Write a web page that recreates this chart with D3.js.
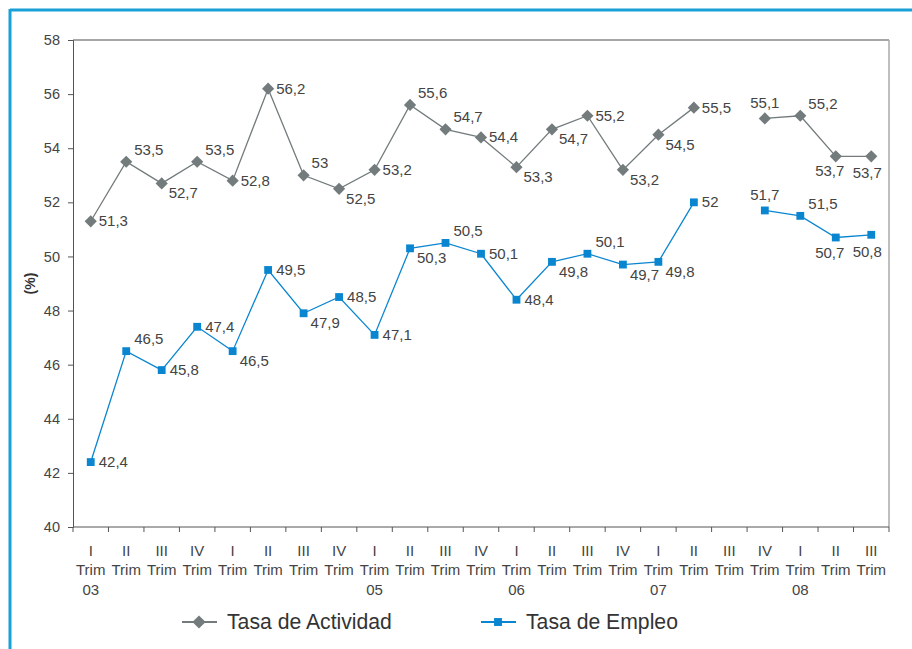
<!DOCTYPE html>
<meta charset="utf-8">
<style>
body { margin: 0; background: #fff; }
svg { display: block; font-family: "Liberation Sans", Arial, sans-serif; }
.tick text { fill: #444; font-size: 14.5px; }
.lbl { fill: #444; font-size: 15px; }
</style>
<svg width="912" height="649"></svg>
<script src="https://d3js.org/d3.v7.min.js"></script>
<script>

var quarters = ["I","II","III","IV","I","II","III","IV","I","II","III","IV","I","II","III","IV","I","II","III","IV","I","II","III"];
var years = ["03","","","","","","","","05","","","","06","","","","07","","","","08","",""];
var actividad = [51.3,53.5,52.7,53.5,52.8,56.2,53,52.5,53.2,55.6,54.7,54.4,53.3,54.7,55.2,53.2,54.5,55.5,null,55.1,55.2,53.7,53.7];
var empleo = [42.4,46.5,45.8,47.4,46.5,49.5,47.9,48.5,47.1,50.3,50.5,50.1,48.4,49.8,50.1,49.7,49.8,52,null,51.7,51.5,50.7,50.8];
var yTicks = [40,42,44,46,48,50,52,54,56,58];

// where each value label sits relative to its point
var actPlace = ["r","ur","dr","ur","r","r","ur","dr","r","ur","ur","r","dr","dr","r","dr","dr","r","","u","ur","dl","d"];
var empPlace = ["r","ur","r","r","dr","r","dr","r","r","dr","ur","r","r","dr","ur","dr","dr","r","","u","ur","dl","d"];

var svg = d3.select("svg"),
    plotL = 73, plotR = 889, plotT = 40, plotB = 527;

// cyan frame
svg.append("line").attr("x1", 10).attr("x2", 912).attr("y1", 10).attr("y2", 10)
  .attr("stroke", "#1aa0d8").attr("stroke-width", 3);
svg.append("line").attr("x1", 10).attr("x2", 10).attr("y1", 9).attr("y2", 649)
  .attr("stroke", "#1aa0d8").attr("stroke-width", 3);

var x = d3.scaleBand().domain(d3.range(quarters.length)).range([plotL, plotR]);
var y = d3.scaleLinear().domain([40, 58]).range([plotB, plotT]);
var cx = function(i) { return x(i) + x.bandwidth() / 2; };

// plot frame
svg.append("line").attr("x1", plotL).attr("x2", plotR).attr("y1", plotT).attr("y2", plotT)
  .attr("stroke", "#888").attr("stroke-width", 1.5);
svg.append("line").attr("x1", plotR).attr("x2", plotR).attr("y1", plotT).attr("y2", plotB)
  .attr("stroke", "#aaa").attr("stroke-width", 1.5);

var yAxis = svg.append("g").attr("transform", "translate(" + plotL + ",0)")
  .call(d3.axisLeft(y).tickValues(yTicks).tickSize(5).tickPadding(8).tickFormat(d3.format("d")));
yAxis.select(".domain").attr("stroke", "#555");
yAxis.selectAll(".tick line").attr("stroke", "#555");

var xAxis = svg.append("g").attr("transform", "translate(0," + plotB + ")");
xAxis.append("line").attr("x1", plotL).attr("x2", plotR).attr("stroke", "#555");
xAxis.selectAll(".xt").data(d3.range(quarters.length + 1)).enter().append("line")
  .attr("x1", function(i) { return plotL + i * x.bandwidth(); })
  .attr("x2", function(i) { return plotL + i * x.bandwidth(); })
  .attr("y1", 0).attr("y2", 5).attr("stroke", "#555");

var xl = svg.append("g").attr("class", "lbl").attr("text-anchor", "middle");
quarters.forEach(function(q, i) {
  xl.append("text").attr("x", cx(i)).attr("y", 556).text(q);
  xl.append("text").attr("x", cx(i)).attr("y", 575).text("Trim");
  if (years[i]) xl.append("text").attr("x", cx(i)).attr("y", 595).text(years[i]);
});

svg.append("text").attr("transform", "translate(35," + ((plotT + plotB) / 2) + ") rotate(-90)")
  .attr("text-anchor", "middle").attr("font-weight", "bold").attr("font-size", 14)
  .attr("fill", "#333").text("(%)");

var line = d3.line().defined(function(d) { return d != null; })
  .x(function(d, i) { return cx(i); }).y(function(d) { return y(d); });

function labelPos(p, px, py) {
  if (p === "ur") return [px + 8, py - 7, "start"];
  if (p === "dr") return [px + 7, py + 15, "start"];
  if (p === "u") return [px, py - 10, "middle"];
  if (p === "dl") return [px - 6, py + 20, "middle"];
  if (p === "d") return [px - 4, py + 22, "middle"];
  return [px + 8, py + 5, "start"];
}

function series(vals, places, color, shape, size) {
  svg.append("path").datum(vals).attr("d", line)
    .attr("fill", "none").attr("stroke", color).attr("stroke-width", 1.3);
  var pts = vals.map(function(v, i) { return { v: v, i: i }; }).filter(function(d) { return d.v != null; });
  svg.append("g").selectAll("path").data(pts).enter().append("path")
    .attr("d", d3.symbol().type(shape).size(size))
    .attr("transform", function(d) { return "translate(" + cx(d.i) + "," + y(d.v) + ")"; })
    .attr("fill", color);
  svg.append("g").selectAll("text").data(pts).enter().append("text")
    .attr("class", "lbl")
    .each(function(d) {
      var p = labelPos(places[d.i], cx(d.i), y(d.v));
      d3.select(this).attr("x", p[0]).attr("y", p[1]).attr("text-anchor", p[2]);
    })
    .text(function(d) { return String(d.v).replace(".", ","); });
}

series(actividad, actPlace, "#737b7d", d3.symbolDiamond2, 95);
series(empleo, empPlace, "#0a86d1", d3.symbolSquare2, 78);

// legend
var legend = [
  { name: "Tasa de Actividad", color: "#737b7d", shape: d3.symbolDiamond2, size: 110, x: 182 },
  { name: "Tasa de Empleo", color: "#0a86d1", shape: d3.symbolSquare2, size: 80, x: 481 }
];
var lg = svg.append("g").attr("transform", "translate(0,622)");
legend.forEach(function(l) {
  lg.append("line").attr("x1", l.x).attr("x2", l.x + 35).attr("stroke", l.color).attr("stroke-width", 2);
  lg.append("path").attr("d", d3.symbol().type(l.shape).size(l.size))
    .attr("transform", "translate(" + (l.x + 17) + ",0)").attr("fill", l.color);
  lg.append("text").attr("x", l.x + 45).attr("y", 7).attr("font-size", 21.2).attr("fill", "#333").text(l.name);
});
</script>
